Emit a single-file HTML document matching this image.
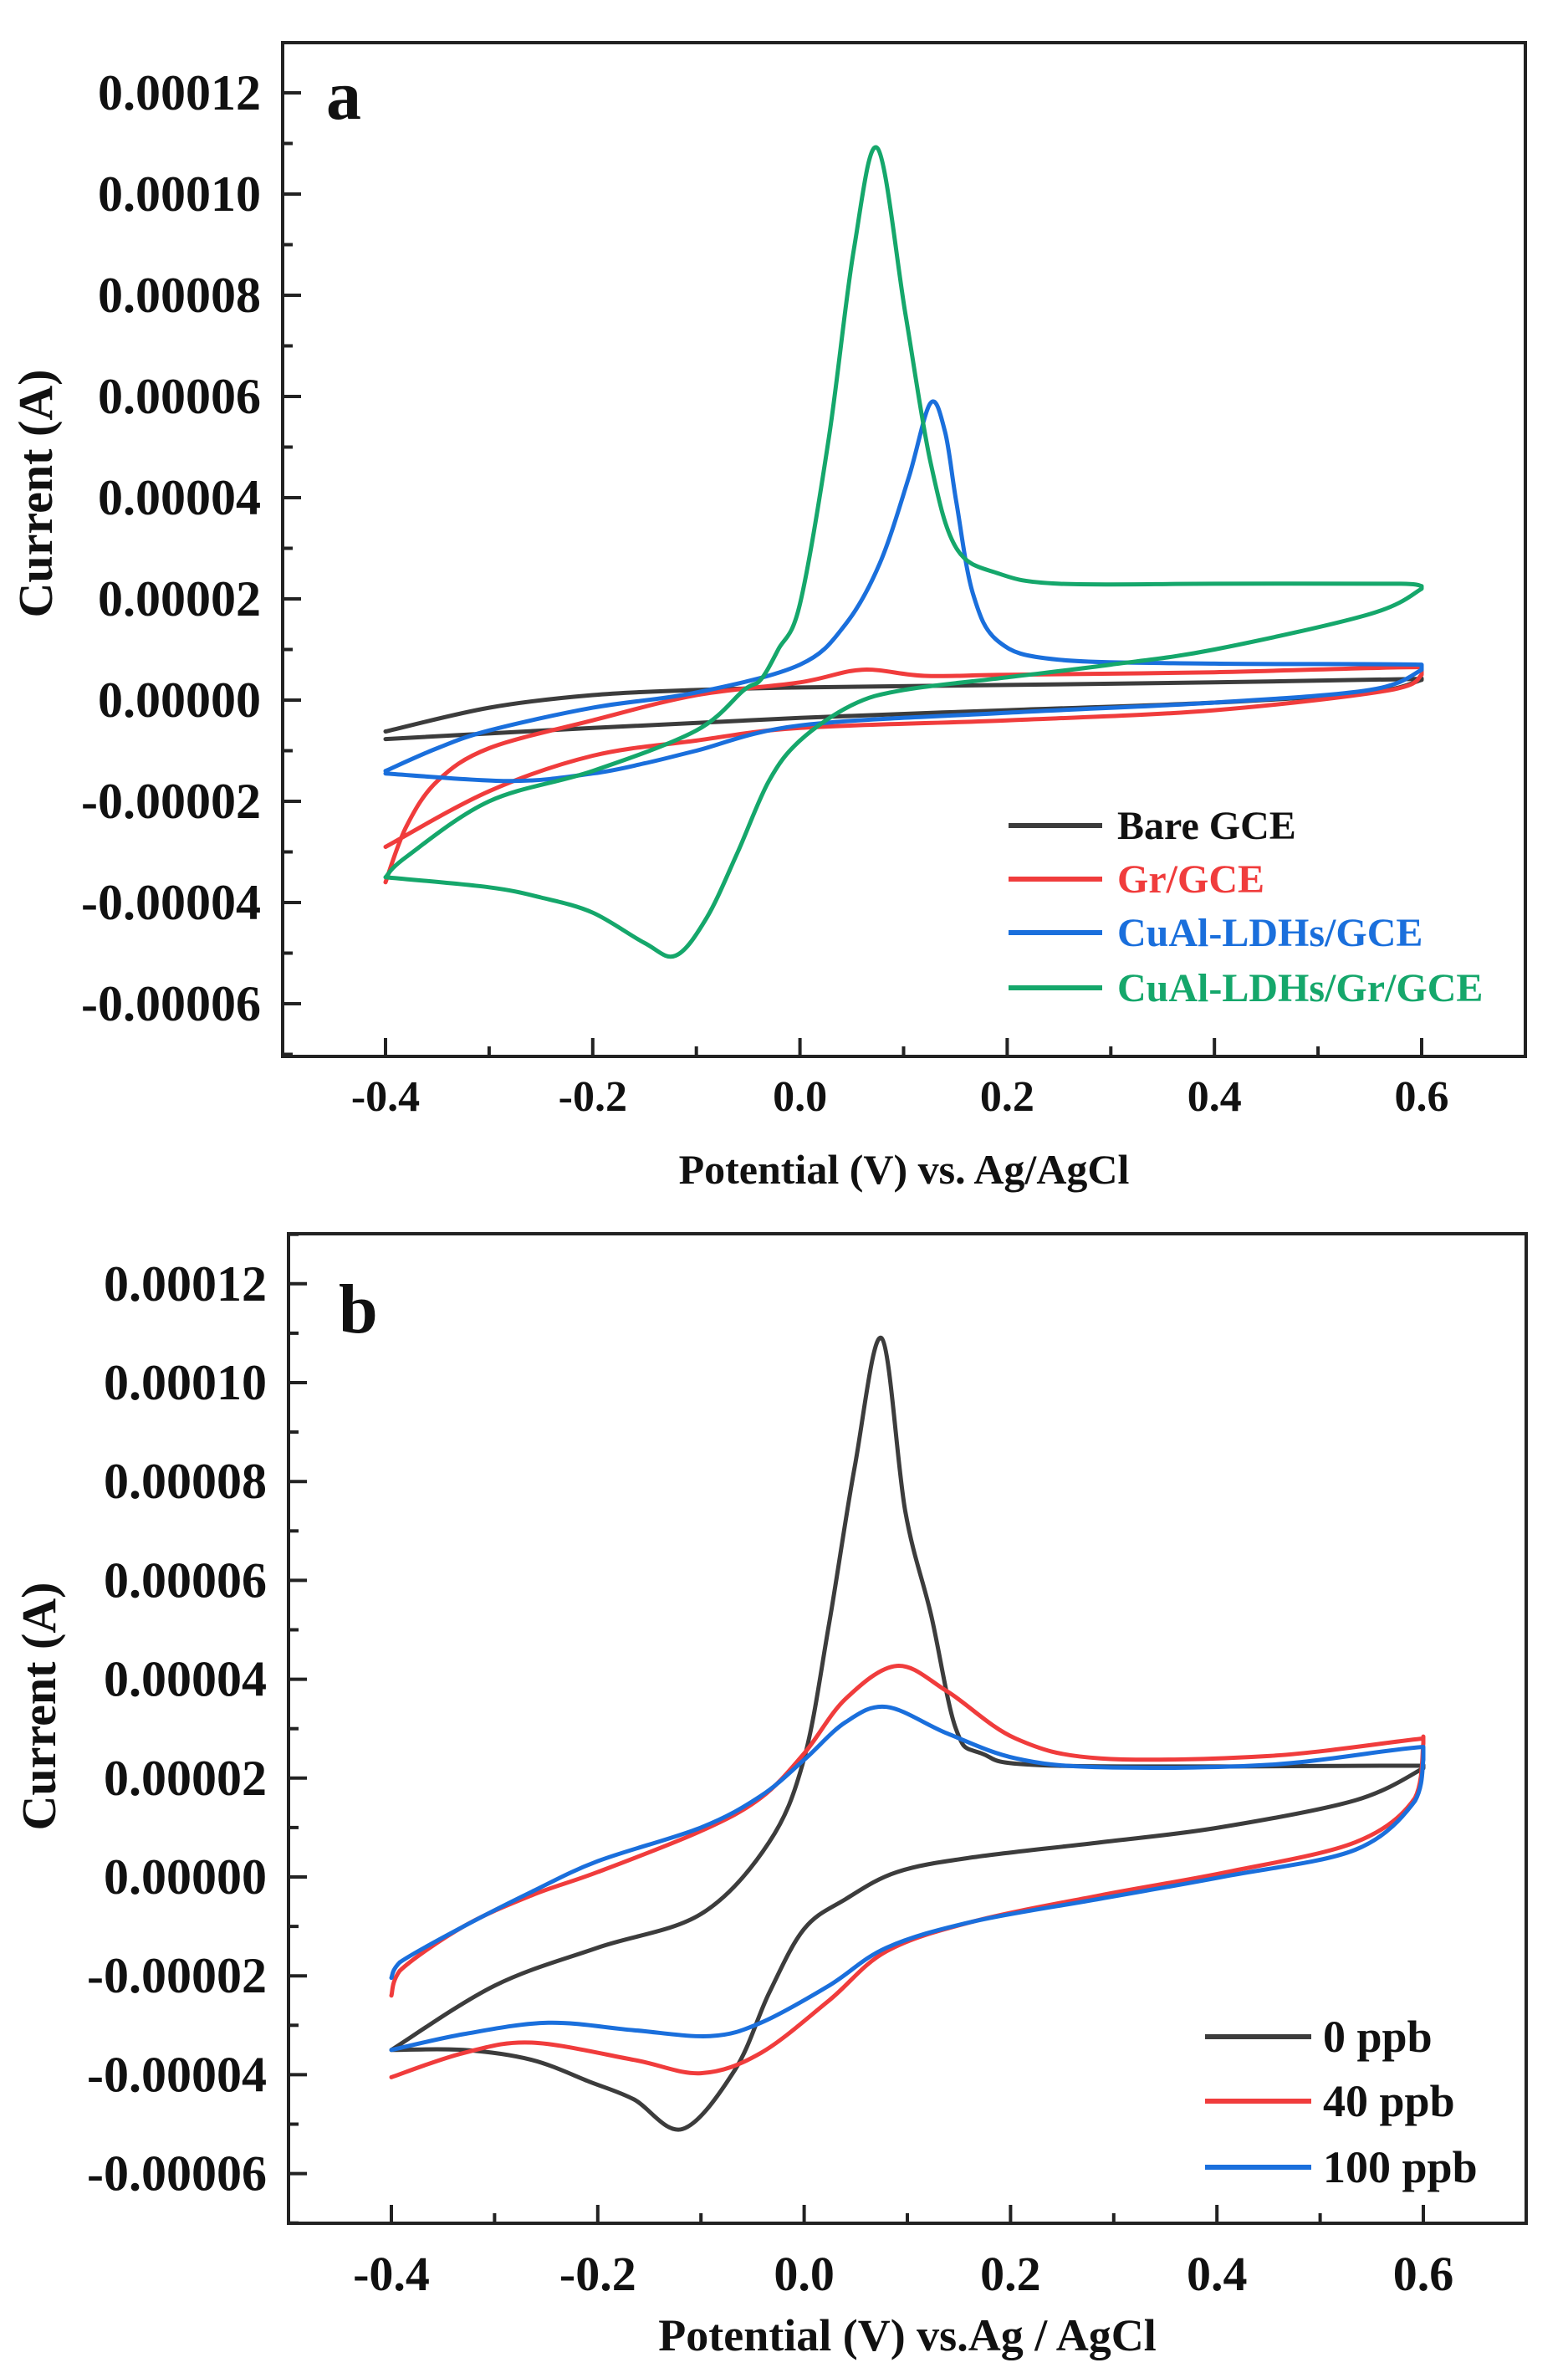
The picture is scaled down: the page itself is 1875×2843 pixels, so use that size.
<!DOCTYPE html>
<html><head><meta charset="utf-8">
<style>
html,body{margin:0;padding:0;background:#fff;}
svg{display:block;}
text{font-family:"Liberation Serif",serif;font-weight:bold;}
</style></head>
<body>
<svg id="fig" width="1875" height="2843" viewBox="0 0 1875 2843" xmlns="http://www.w3.org/2000/svg">
<rect width="1875" height="2843" fill="#fff"/>
</svg>
<script>
// Values: potential in V, current in units of 1e-5 A
const xTicks = [-0.4, -0.2, 0.0, 0.2, 0.4, 0.6];
const xTickLabels = ["-0.4", "-0.2", "0.0", "0.2", "0.4", "0.6"];
const yTicks = [12, 10, 8, 6, 4, 2, 0, -2, -4, -6];
const yTickLabels = ["0.00012","0.00010","0.00008","0.00006","0.00004","0.00002","0.00000","-0.00002","-0.00004","-0.00006"];

const bareV = [-0.4,-0.3,-0.2,-0.1,0,0.2,0.4,0.6, 0.6,0.55,0.4,0.2,0,-0.2,-0.4];
const bareI = [-0.62,-0.15,0.1,0.2,0.25,0.3,0.35,0.42, 0.4,0.15,-0.05,-0.2,-0.35,-0.55,-0.77];

const grV = [-0.4,-0.38,-0.35,-0.3,-0.2,-0.1,0,0.06,0.12,0.2,0.4,0.6, 0.6,0.57,0.4,0.2,0,-0.1,-0.2,-0.3,-0.4];
const grI = [-3.6,-2.5,-1.6,-0.95,-0.4,0.1,0.35,0.6,0.48,0.5,0.55,0.65, 0.5,0.2,-0.2,-0.4,-0.55,-0.8,-1.1,-1.8,-2.9];

const ldhV = [-0.4,-0.35,-0.3,-0.2,-0.1,0,0.044,0.077,0.105,0.126,0.14,0.151,0.167,0.192,0.249,0.4,0.6, 0.6,0.55,0.4,0.2,0,-0.1,-0.15,-0.2,-0.28,-0.4];
const ldhI = [-1.4,-0.95,-0.6,-0.15,0.15,0.7,1.5,2.7,4.4,5.87,5.3,3.9,2.1,1.15,0.8,0.72,0.7, 0.6,0.2,-0.05,-0.25,-0.5,-1.0,-1.25,-1.45,-1.6,-1.45];

const compV = [-0.4,-0.38,-0.3,-0.2,-0.1,-0.054,-0.038,-0.021,0,0.028,0.052,0.075,0.102,0.126,0.151,0.192,0.25,0.4,0.58,0.6, 0.6,0.55,0.4,0.3,0.2,0.1,0.05,0,-0.03,-0.06,-0.09,-0.12,-0.15,-0.2,-0.25,-0.3,-0.4];
const compI = [-3.5,-3.1,-2.0,-1.4,-0.6,0.2,0.4,1.0,1.9,5.2,8.9,10.9,7.6,4.7,3.0,2.5,2.3,2.3,2.3,2.25, 2.2,1.7,1.0,0.7,0.45,0.2,-0.1,-0.8,-1.6,-3.0,-4.3,-5.05,-4.8,-4.2,-3.9,-3.7,-3.5];

const p0V = [-0.4,-0.3,-0.2,-0.1,-0.034,0,0.024,0.049,0.075,0.098,0.123,0.147,0.172,0.246,0.6, 0.6,0.534,0.402,0.287,0.164,0.09,0.04,0,-0.034,-0.067,-0.118,-0.165,-0.207,-0.264,-0.33,-0.4];
const p0I = [-3.5,-2.2,-1.43,-0.75,0.7,2.4,5.1,8.3,10.9,7.4,5.3,3.0,2.5,2.25,2.25, 2.2,1.55,1.0,0.7,0.4,0.1,-0.45,-1.05,-2.35,-3.9,-5.1,-4.5,-4.15,-3.7,-3.5,-3.5];

const p40V = [-0.4,-0.392,-0.33,-0.264,-0.2,-0.1,-0.042,0,0.04,0.09,0.139,0.205,0.287,0.452,0.6, 0.6,0.592,0.534,0.41,0.287,0.164,0.08,0.024,-0.042,-0.1,-0.165,-0.264,-0.33,-0.4];
const p40I = [-2.4,-1.9,-1.0,-0.37,0.1,0.93,1.6,2.5,3.6,4.27,3.75,2.8,2.4,2.45,2.8, 2.7,1.6,0.7,0.1,-0.37,-0.9,-1.5,-2.5,-3.56,-3.97,-3.7,-3.35,-3.56,-4.05];

const p100V = [-0.4,-0.392,-0.33,-0.264,-0.2,-0.1,-0.042,0,0.04,0.08,0.139,0.205,0.287,0.452,0.6, 0.6,0.592,0.534,0.41,0.287,0.164,0.08,0.024,-0.042,-0.091,-0.165,-0.248,-0.33,-0.4];
const p100I = [-2.04,-1.73,-1.0,-0.3,0.32,1.0,1.64,2.37,3.13,3.44,2.9,2.4,2.22,2.27,2.63, 2.37,1.54,0.55,0.02,-0.44,-0.9,-1.43,-2.2,-2.95,-3.22,-3.1,-2.95,-3.18,-3.5];

const legendA = ["Bare GCE","Gr/GCE","CuAl-LDHs/GCE","CuAl-LDHs/Gr/GCE"];
const legendB = ["0 ppb","40 ppb","100 ppb"];

const NS = "http://www.w3.org/2000/svg";
const svg = document.getElementById("fig");
function mk(tag, attrs, parent){
  const e = document.createElementNS(NS, tag);
  for (const k in attrs) e.setAttribute(k, attrs[k]);
  (parent||svg).appendChild(e);
  return e;
}
function smooth(pts, xmin, xmax){
  const cl = x => Math.min(xmax, Math.max(xmin, x));
  let d = "M" + pts[0][0].toFixed(1) + "," + pts[0][1].toFixed(1);
  for (let i=0;i<pts.length-1;i++){
    const p0 = pts[Math.max(0,i-1)], p1 = pts[i], p2 = pts[i+1], p3 = pts[Math.min(pts.length-1,i+2)];
    const t = 6;
    const c1 = [cl(p1[0]+(p2[0]-p0[0])/t), p1[1]+(p2[1]-p0[1])/t];
    const c2 = [cl(p2[0]-(p3[0]-p1[0])/t), p2[1]-(p3[1]-p1[1])/t];
    d += " C" + c1[0].toFixed(1)+","+c1[1].toFixed(1)+" "+c2[0].toFixed(1)+","+c2[1].toFixed(1)+" "+p2[0].toFixed(1)+","+p2[1].toFixed(1);
  }
  return d;
}

function panel(cfg){
  const g = mk("g", {});
  
  
  const xs = v => cfg.x0 + (v - (-0.4)) * cfg.xk;
  const ys = i => cfg.y0 - i * cfg.yk;
  cfg.series.forEach(s => {
    const pts = s.v.map((v,k)=>[xs(v), ys(s.i[k])]);
    const p = mk("path", {d: smooth(pts, xs(-0.4), xs(0.6)), fill:"none", stroke:s.color, "stroke-width":5, "stroke-linejoin":"round", "stroke-linecap":"round"}, g);
    
    
  });
  const box = mk("rect", {x:cfg.L, y:cfg.T, width:cfg.R-cfg.L, height:cfg.B-cfg.T, fill:"none", stroke:"#222", "stroke-width":4}, g);
  
  
  yTicks.forEach((t,k) => {
    const y = ys(t);
    const tk = mk("line", {x1:cfg.L, x2:cfg.L+22, y1:y, y2:y, stroke:"#222","stroke-width":4}, g);
    
    
    const tx = mk("text", {x:cfg.L-26, y:y+20, "text-anchor":"end", "font-size":60, fill:"#111"}, g);
    tx.textContent = yTickLabels[k];
    
    
    const ym = ys(t - 1);
    if (ym < cfg.B) {
      const mn = mk("line", {x1:cfg.L, x2:cfg.L+12, y1:ym, y2:ym, stroke:"#222","stroke-width":4}, g);
      
      
    }
    const yu = ys(t + 1);
    if (k === 0 && yu > cfg.T) {
      const mn2 = mk("line", {x1:cfg.L, x2:cfg.L+12, y1:yu, y2:yu, stroke:"#222","stroke-width":4}, g);
      
      
    }
  });
  xTicks.forEach((t,k) => {
    const x = xs(t);
    const tk = mk("line", {x1:x, x2:x, y1:cfg.B, y2:cfg.B-22, stroke:"#222","stroke-width":4}, g);
    
    
    const tx = mk("text", {x:x, y:cfg.xlabY, "text-anchor":"middle", "font-size":cfg.xfs, fill:"#111"}, g);
    tx.textContent = xTickLabels[k];
    
    
    if (k < xTicks.length-1) {
      const xm = xs(t + 0.1);
      const mn = mk("line", {x1:xm, x2:xm, y1:cfg.B, y2:cfg.B-12, stroke:"#222","stroke-width":4}, g);
      
      
    }
  });
  const xt = mk("text", {x:(cfg.L+cfg.R)/2, y:cfg.xtitleY, "text-anchor":"middle", "font-size":cfg.xtfs, fill:"#111"}, g);
  xt.textContent = cfg.xtitle;
  
  
  const yt = mk("text", {x:0, y:0, "text-anchor":"middle", "font-size":58, fill:"#111", transform:"translate("+cfg.ytX+","+cfg.ytY+") rotate(-90)"}, g);
  yt.textContent = "Current (A)";
  
  
  const pl = mk("text", {x:cfg.letterX, y:cfg.letterY, "font-size":84, fill:"#111"}, g);
  pl.textContent = cfg.letter;
  
  
  cfg.legend.forEach((lab,k) => {
    const y = cfg.legY[k];
    const ln = mk("line", {x1:cfg.legX1, x2:cfg.legX2, y1:y, y2:y, stroke:cfg.series[k].color, "stroke-width":6}, g);
    
    
    const tx = mk("text", {x:cfg.legTX, y:y+cfg.legfs*0.33, "font-size":cfg.legfs, fill:cfg.legColors[k]}, g);
    tx.textContent = lab;
    
    
  });
}

panel({
  name:"panel-a", letter:"a", L:338, R:1824, T:51, B:1263,
  x0:461, xk:1239, y0:837, yk:60.5,
  xlabY:1328, xfs:52, xtitle:"Potential (V) vs. Ag/AgCl", xtitleY:1415, xtfs:50,
  ytX:62, ytY:590, letterX:390, letterY:142,
  legend:legendA, legX1:1206, legX2:1318, legTX:1336, legY:[987,1051,1115,1181], legfs:48,
  legColors:["#111","#f03c3c","#1a6fdc","#15a76b"],
  series:[
    {name:"bare-gce-curve", v:bareV, i:bareI, color:"#3c3c3c"},
    {name:"gr-gce-curve", v:grV, i:grI, color:"#f03c3c"},
    {name:"cual-ldhs-gce-curve", v:ldhV, i:ldhI, color:"#1a6fdc"},
    {name:"cual-ldhs-gr-gce-curve", v:compV, i:compI, color:"#15a76b"}
  ]
});
panel({
  name:"panel-b", letter:"b", L:345, R:1825, T:1475, B:2658,
  x0:468, xk:1234, y0:2244, yk:59.1,
  xlabY:2738, xfs:58, xtitle:"Potential (V) vs.Ag / AgCl", xtitleY:2810, xtfs:54,
  ytX:66, ytY:2040, letterX:405, letterY:1593,
  legend:legendB, legX1:1441, legX2:1568, legTX:1582, legY:[2435,2512,2591], legfs:54,
  legColors:["#111","#111","#111"],
  series:[
    {name:"0-ppb-curve", v:p0V, i:p0I, color:"#3c3c3c"},
    {name:"40-ppb-curve", v:p40V, i:p40I, color:"#f03c3c"},
    {name:"100-ppb-curve", v:p100V, i:p100I, color:"#1a6fdc"}
  ]
});
</script>
</body></html>
